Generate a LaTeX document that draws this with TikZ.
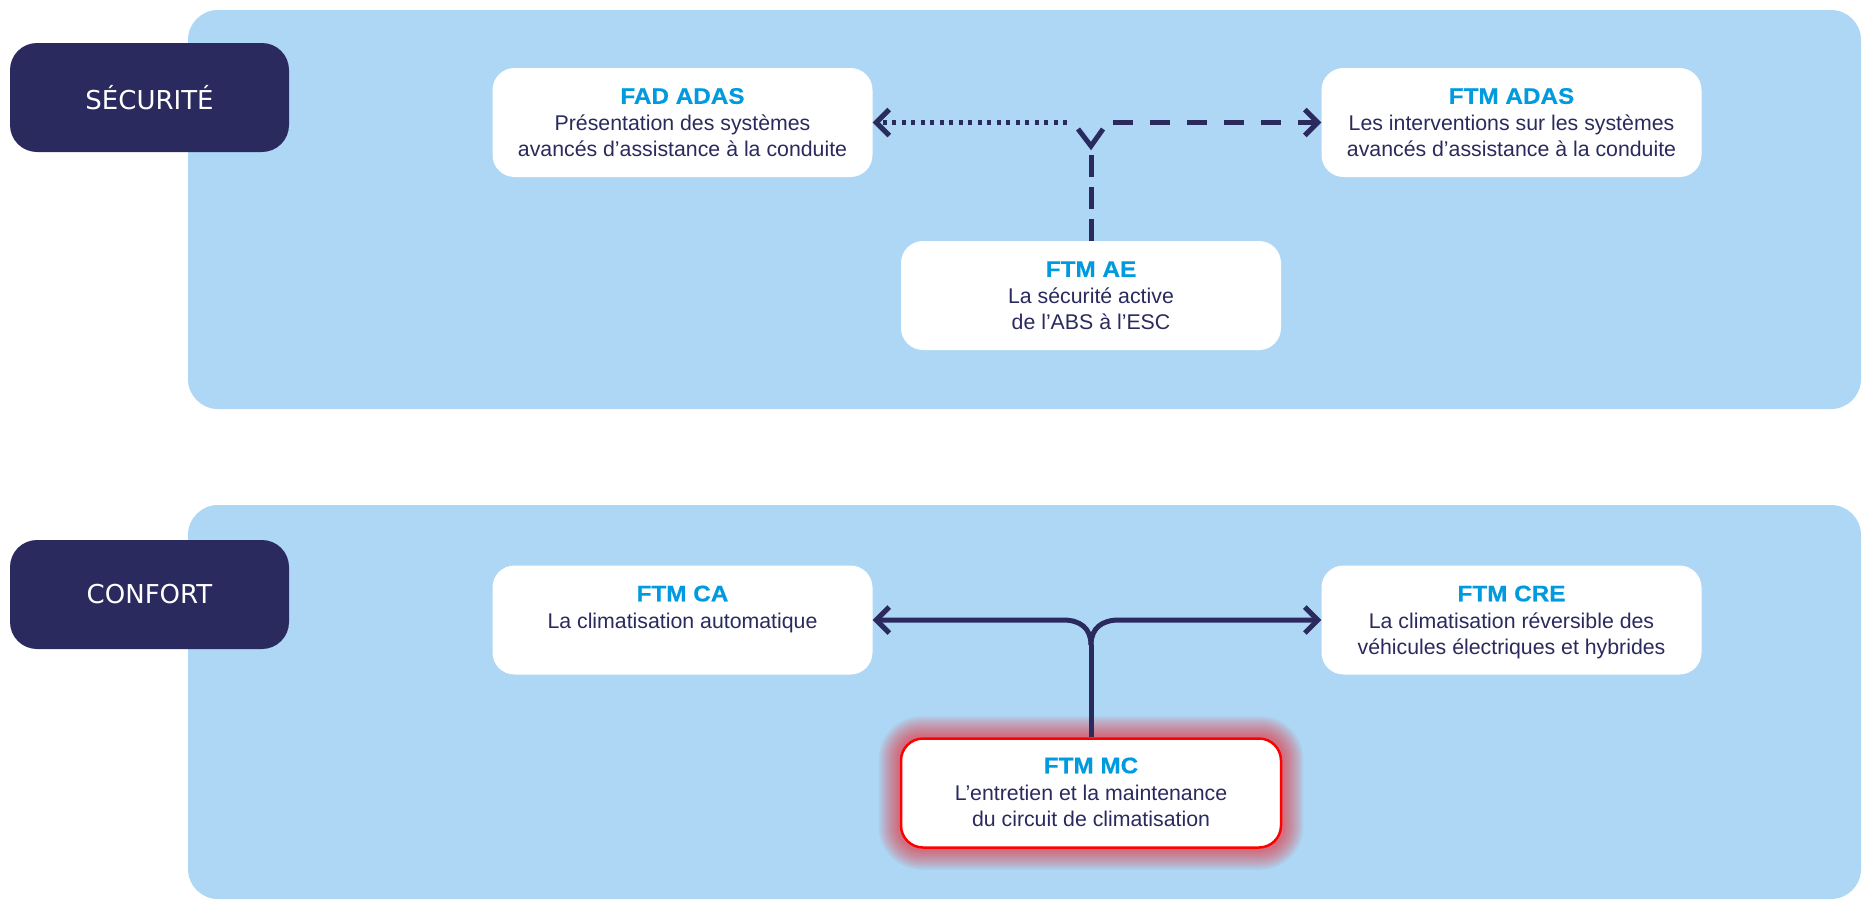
\documentclass[tikz,border=0pt]{standalone}
\usepackage{fontspec}
\setmainfont{Liberation Sans}
\newfontfamily\lblfont{DejaVu Sans}
\newfontfamily\ttlfont[FakeStretch=1.08,FakeBold=0.6]{Liberation Sans}
\usetikzlibrary{arrows.meta}
\definecolor{navy}{HTML}{2A2A5E}
\definecolor{panelblue}{HTML}{ADD7F5}
\definecolor{ttlblue}{HTML}{009BDF}
\definecolor{glowred}{HTML}{FF0000}
\pgfdeclarelayer{bg}
\pgfsetlayers{bg,main}
\tikzset{
  panel/.style={fill=panelblue, rounded corners=30pt},
  lblbox/.style={fill=navy, rounded corners=27pt, minimum width=279pt, minimum height=109pt,
    text=white, font=\lblfont\fontsize{26}{30}\selectfont, inner sep=0pt},
  cbox/.style={fill=white, rounded corners=22pt, minimum width=380pt, minimum height=109pt, inner sep=0pt},
  ttl/.style={anchor=base, text=ttlblue, font=\ttlfont\bfseries\fontsize{22.5}{26}\selectfont, inner sep=0pt},
  body/.style={anchor=base, text=navy, font=\fontsize{21.3}{26}\selectfont, inner sep=0pt},
  conn/.style={draw=navy, line width=5pt},
  tipend/.style={-{Straight Barb[length=13pt,width=26pt]}},
}
\newcommand\cardtext[4]{%
  \node[ttl] (#1-t) at ([yshift=-36pt]#1.north) {#2};
  \node[body] (#1-a) at ([yshift=-63pt]#1.north) {#3};
  \node[body] (#1-b) at ([yshift=-89pt]#1.north) {#4};
}
\begin{document}
\begin{tikzpicture}[x=1pt,y=-1pt]
\useasboundingbox (0,0) rectangle (1865,902);
\begin{pgfonlayer}{bg}
  \fill[white] (0,0) rectangle (1865,902);
  \path[panel] (188,10) rectangle (1861,409);
  \path[panel] (188,505) rectangle (1861,899);
\end{pgfonlayer}

% category labels
\node[lblbox] (sec) at (149.5,97.5) {SÉCURITÉ};
\node[lblbox] (conf) at (149.5,594.5) {CONFORT};

% SÉCURITÉ cards
\node[cbox] (fad) at (682.5,122.5) {};
\cardtext{fad}{FAD ADAS}{Présentation des systèmes}{avancés d’assistance à la conduite}
\node[cbox] (ftmadas) at (1511.5,122.5) {};
\cardtext{ftmadas}{FTM ADAS}{Les interventions sur les systèmes}{avancés d’assistance à la conduite}
\node[cbox] (ae) at (1091,295.5) {};
\cardtext{ae}{FTM AE}{La sécurité active}{de l’ABS à l’ESC}

% CONFORT cards
\node[cbox] (ca) at (682.5,620) {};
\cardtext{ca}{FTM CA}{La climatisation automatique}{}
\node[cbox] (cre) at (1511.5,620) {};
\cardtext{cre}{FTM CRE}{La climatisation réversible des}{véhicules électriques et hybrides}
\node[cbox, draw=glowred, line width=2.5pt] (mc) at (1091,793) {};
\cardtext{mc}{FTM MC}{L’entretien et la maintenance}{du circuit de climatisation}

% glow around MC
\begin{pgfonlayer}{bg}
  \foreach \r [evaluate=\r as \c using 22+\r] in {3,5,...,21}
    \fill[glowred, opacity=0.06, rounded corners=\c pt]
      ([shift={(-\r,-\r)}]mc.north west) rectangle ([shift={(\r,\r)}]mc.south east);
\end{pgfonlayer}

% SÉCURITÉ connectors
\coordinate (j1) at (1091,146);
\coordinate (vl) at (1078,129);
\coordinate (vr) at (1103,129);
\coordinate (hl) at (1067,122.5);
\coordinate (hr) at (1113,122.5);
\draw[conn, dash pattern=on 22pt off 10pt] (ae.north) -- (j1);
\draw[conn] (vl) -- (j1) -- (vr);
\draw[conn, dash pattern=on 4pt off 5.5pt, tipend] (hl) -- (fad.east);
\draw[conn, dash pattern=on 20pt off 17pt, tipend] (hr) -- (ftmadas.west);

% CONFORT connectors
\coordinate (j2) at (1091,645);
\draw[conn] (mc.north) -- (j2);
\draw[conn, tipend] (j2) .. controls (1091,628) and (1080,620) .. (1063,620) -- (ca.east);
\draw[conn, tipend] (j2) .. controls (1091,628) and (1102,620) .. (1119,620) -- (cre.west);
\end{tikzpicture}
\end{document}
